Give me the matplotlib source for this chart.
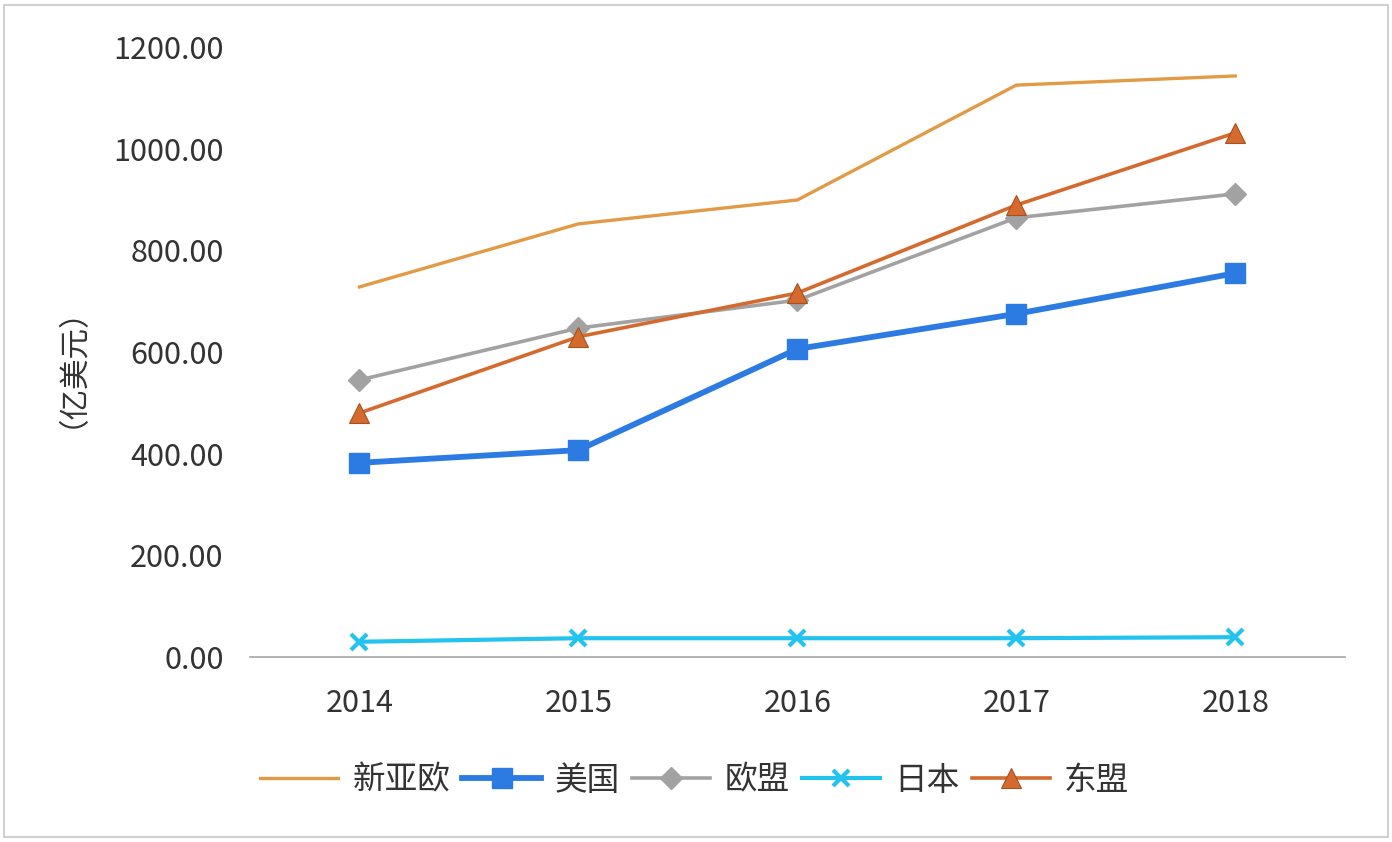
import matplotlib.pyplot as plt
from matplotlib.patches import Rectangle

plt.rcParams['font.family'] = ['Noto Sans CJK SC', 'DejaVu Sans']

years = ['2014', '2015', '2016', '2017', '2018']
xinyaou = [728, 852, 899, 1125, 1143]
meiguo = [382, 407, 606, 675, 755]
oumeng = [545, 647, 702, 864, 911]
riben = [30, 37, 37, 37, 39]
dongmeng = [480, 630, 716, 889, 1031]

fig = plt.figure(figsize=(13.92, 8.42), dpi=100)
ax = fig.add_axes([0.1796, 0.2197, 0.7864, 0.7245])

x = range(len(years))
ax.plot(x, xinyaou, color='#E39A46', lw=2.4, label='新亚欧')
ax.plot(x, meiguo, color='#2B7BE3', lw=4.2, marker='s', ms=15, label='美国')
ax.plot(x, oumeng, color='#A2A2A2', lw=2.6, marker='D', ms=11, label='欧盟')
ax.plot(x, riben, color='#22C3EE', lw=3, marker='x', ms=12, mew=3, label='日本')
ax.plot(x, dongmeng, color='#D46A2E', lw=2.6, marker='^', ms=14,
        markeredgecolor='#A8501F', markeredgewidth=0.8, label='东盟')

ax.set_xlim(-0.5, 4.5)
ax.set_ylim(0, 1200)
ax.set_xticks(list(x))
ax.set_xticklabels(years)
ax.set_yticks(range(0, 1201, 200))
ax.set_yticklabels([f'{v:.2f}' for v in range(0, 1201, 200)])
ax.tick_params(axis='both', length=0, labelsize=22, colors='#333333')
ax.tick_params(axis='y', pad=19)
ax.tick_params(axis='x', pad=22)
for lbl in ax.get_xticklabels() + ax.get_yticklabels():
    lbl.set_fontweight('light')
for s in ['top', 'right', 'left']:
    ax.spines[s].set_visible(False)
ax.spines['bottom'].set_color('#A6A6A6')
ax.spines['bottom'].set_linewidth(1.2)
ax.set_ylabel('（亿美元）', fontsize=22, color='#333333', labelpad=30, fontweight='light')

fig.legend(loc='center', bbox_to_anchor=(0.499, 0.073), ncol=5, frameon=False,
           prop={'size': 23.5, 'weight': 'light'}, handlelength=2.4,
           columnspacing=0.37, handletextpad=0.43, labelcolor='#333333')

fig.patches.append(Rectangle((0.003, 0.006), 0.994, 0.988, transform=fig.transFigure,
                             fill=False, edgecolor='#D0D0D0', lw=1.5))

plt.savefig('out.png')
